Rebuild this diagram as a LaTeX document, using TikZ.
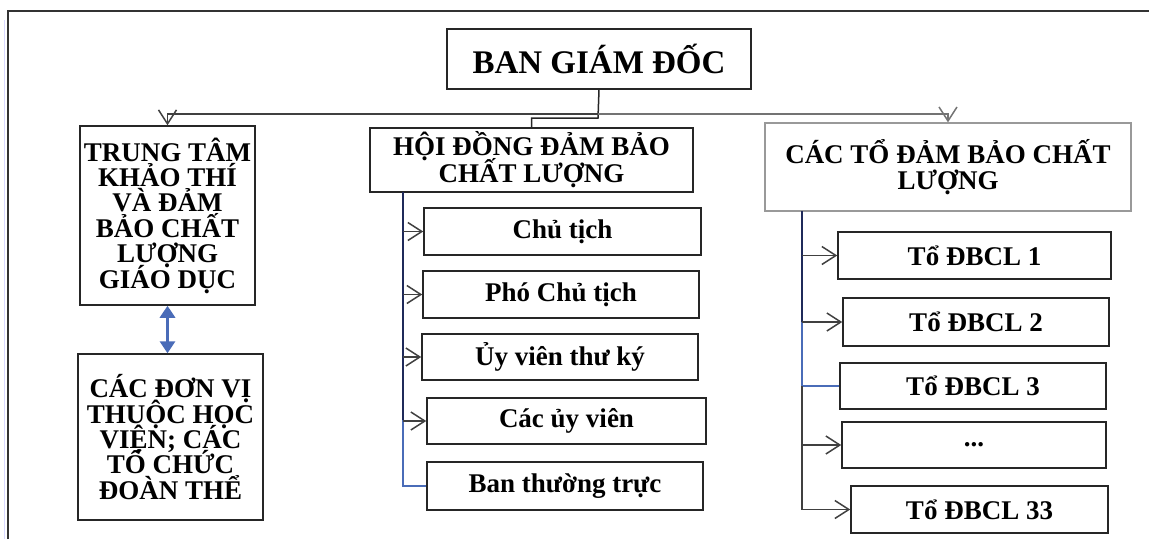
\documentclass[tikz,border=0pt]{standalone}
\usepackage{fontspec}
\setmainfont{Liberation Serif}
\usetikzlibrary{arrows.meta}
\definecolor{navy}{HTML}{1F2A5A}
\definecolor{bluel}{HTML}{4A6CB8}
\definecolor{arrg}{HTML}{404040}
\tikzset{
  box/.style={draw=black!85, line width=1.5pt, inner sep=0pt, align=center,
    font=\bfseries\fontsize{27}{25.4}\selectfont},
  graybox/.style={box, draw=black!40, line width=1.3pt},
  conn/.style={draw=black!85, line width=1.5pt},
  arr/.style={draw=arrg, line width=1.5pt, -{Straight Barb[length=14pt,width=18pt,line width=1.5pt]}},
  dbl/.style={draw=bluel, line width=3.2pt, {Triangle[length=12pt,width=15pt]}-{Triangle[length=12pt,width=15pt]}},
}
\begin{document}
\lineskiplimit=-100pt
\lineskip=0pt
\begin{tikzpicture}[x=1pt,y=-1pt]
\useasboundingbox (0,0) rectangle (1149,539);
% outer frame
\draw[draw=blue!15, line width=1pt] (4.5,20) -- (4.5,539);
\draw[draw=black!80, line width=1.6pt] (8,539) -- (8,11) -- (1149,11);

\node[box, minimum width=304pt, minimum height=60pt, font=\bfseries\fontsize{33}{30}\selectfont] (bgd) at (599,59) {BAN GIÁM ĐỐC};
\node[box, minimum width=175pt, minimum height=179pt] (ttkt) at (167.5,215.5) {TRUNG TÂM\\KHẢO THÍ\\VÀ ĐẢM\\BẢO CHẤT\\LƯỢNG\\GIÁO DỤC};
\node[box, minimum width=185pt, minimum height=166pt] (dv) at (170.5,437) {CÁC ĐƠN VỊ\\THUỘC HỌC\\VIỆN; CÁC\\TỔ CHỨC\\ĐOÀN THỂ};
\node[box, minimum width=323pt, minimum height=64pt, font=\bfseries\fontsize{27}{27}\selectfont] (hd) at (531.5,160) {HỘI ĐỒNG ĐẢM BẢO\\CHẤT LƯỢNG};
\node[box, minimum width=277pt, minimum height=47pt] (ct) at (562.5,231.5) {Chủ tịch};
\node[box, minimum width=276pt, minimum height=47pt] (pct) at (561,294.5) {Phó Chủ tịch};
\node[box, minimum width=276pt, minimum height=46pt] (uvtk) at (560,357) {Ủy viên thư ký};
\node[box, minimum width=279pt, minimum height=46pt] (cuv) at (566.5,421) {Các ủy viên};
\node[box, minimum width=276pt, minimum height=48pt] (btt) at (565,486) {Ban thường trực};
\node[graybox, minimum width=366pt, minimum height=88pt] (cto) at (948,167) {CÁC TỔ ĐẢM BẢO CHẤT\\LƯỢNG};
\node[box, minimum width=273pt, minimum height=47pt] (t1) at (974.5,255.5) {Tổ ĐBCL 1};
\node[box, minimum width=266pt, minimum height=48pt] (t2) at (976,322) {Tổ ĐBCL 2};
\node[box, minimum width=266pt, minimum height=46pt] (t3) at (973,386) {Tổ ĐBCL 3};
\node[box, minimum width=264pt, minimum height=46pt] (td) at (974,445) {...};
\node[box, minimum width=257pt, minimum height=47pt] (t33) at (979.5,509.5) {Tổ ĐBCL 33};

% top connectors
\coordinate (j) at (598,114);
\coordinate (j2) at (598,118);
\draw[conn] (bgd.south) -- (j2) -| (hd.north);
\draw[arr] (j) -| (ttkt.north);
\draw[arr, draw=black!55] (j) -| (cto.north);
\draw[dbl] (ttkt.south) -- (dv.north -| ttkt.south);

% council branch
\coordinate (hv) at (403,192);
\coordinate (hb) at (403,420);
\draw[draw=navy, line width=1.7pt] (hv) -- (hb);
\draw[draw=bluel, line width=1.7pt] (hb) |- (btt.west);
\draw[arr] (hv |- ct.west) -- (ct.west);
\draw[arr] (hv |- pct.west) -- (pct.west);
\draw[arr] (hv |- uvtk.west) -- (uvtk.west);
\draw[arr] (hv |- cuv.west) -- (cuv.west);

% groups branch
\coordinate (tv) at (802,211);
\coordinate (tb) at (802,322);
\coordinate (tc) at (802,386);
\draw[draw=navy, line width=1.7pt] (tv) -- (tb);
\draw[draw=bluel, line width=1.7pt] (tb) |- (t3.west);
\draw[conn, draw=arrg] (tc) -- (tc |- t33.west);
\draw[arr] (tv |- t1.west) -- (t1.west);
\draw[arr] (tv |- t2.west) -- (t2.west);
\draw[arr] (tv |- td.west) -- (td.west);
\draw[arr] (tv |- t33.west) -- (t33.west);
\end{tikzpicture}
\end{document}
